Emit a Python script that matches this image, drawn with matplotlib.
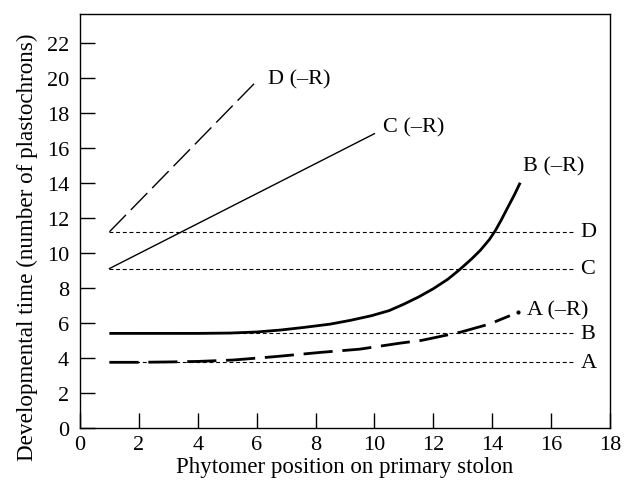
import matplotlib
matplotlib.use("Agg")
import matplotlib.pyplot as plt
import numpy as np

plt.rcParams['font.family'] = ['Liberation Serif', 'DejaVu Serif']

# Data
ref_names = ["D", "C", "B", "A"]
ref_levels = [11.2, 9.1, 5.4, 3.75]
ref_x = [1, 16.8]

d_x = [1, 6]
d_y = [11.2, 19.8]

c_x = [1, 10]
c_y = [9.1, 16.8]

b_x = [1, 2, 3, 4, 5.1, 6, 6.8, 7.6, 8.5, 9.2, 9.9, 10.5, 11.0, 11.5, 12.0, 12.5,
       12.9, 13.3, 13.6, 13.9, 14.1, 14.3, 14.5, 14.75, 14.95]
b_y = [5.4, 5.4, 5.4, 5.4, 5.42, 5.48, 5.59, 5.74, 5.93, 6.15, 6.41, 6.7, 7.07, 7.48, 7.95, 8.5,
       9.05, 9.65, 10.15, 10.75, 11.25, 11.85, 12.5, 13.3, 14.0]

a_x = [1, 2, 3, 4, 5.2, 6.6, 8.2, 9.5, 10.9, 11.6, 12.9, 13.9, 14.6]
a_y = [3.75, 3.75, 3.77, 3.8, 3.88, 4.07, 4.32, 4.5, 4.85, 5.0, 5.46, 5.93, 6.41]
a_dot = (14.89, 6.64)

curve_labels = ["D (\u2013R)", "C (\u2013R)", "B (\u2013R)", "A (\u2013R)"]
curve_label_pos = [(6.4, 19.95), (10.3, 17.2), (15.05, 14.95), (15.18, 6.75)]

fig = plt.figure(figsize=(6.24, 4.81), dpi=100)
ax = fig.add_axes([80/624, 52/481, 530/624, 414/481])

for lvl, name in zip(ref_levels, ref_names):
    ax.plot(ref_x, [lvl, lvl], color='black', lw=0.8, linestyle=(0, (3.5, 2.5)))
    ax.text(17.0, lvl, name, ha='left', va='center', fontsize=16)

ax.plot(d_x, d_y, color='black', lw=1.0, linestyle=(0, (17, 5)))
ax.plot(c_x, c_y, color='black', lw=1.0)
ax.plot(b_x, b_y, color='black', lw=2.0, solid_capstyle='butt', solid_joinstyle='round')
ax.plot(a_x, a_y, color='black', lw=2.0, linestyle=(0, (10.5, 3.5)))
ax.plot([a_dot[0]], [a_dot[1]], 'o', color='black', ms=2)

for lab, (lx, ly) in zip(curve_labels, curve_label_pos):
    ax.text(lx, ly, lab, ha='left', va='center', fontsize=16)

ax.set_xlim(0, 18)
ax.set_ylim(0, 23.63)
ax.set_xticks(np.arange(0, 19, 2))
ax.set_yticks(np.arange(0, 23, 2))
ax.tick_params(direction='in', length=11, width=1, labelsize=16,
               top=False, right=False)
ax.tick_params(axis='x', pad=5)
ax.tick_params(axis='y', pad=8)
for s in ax.spines.values():
    s.set_linewidth(1.0)
ax.set_xlabel("Phytomer position on primary stolon", fontsize=16.5)
ax.set_ylabel("Developmental time (number of plastochrons)", fontsize=16.7)
ax.xaxis.set_label_coords(0.5, -0.068)
ax.yaxis.set_label_coords(-0.08, 0.44)

fig.savefig("out.png", dpi=100)
